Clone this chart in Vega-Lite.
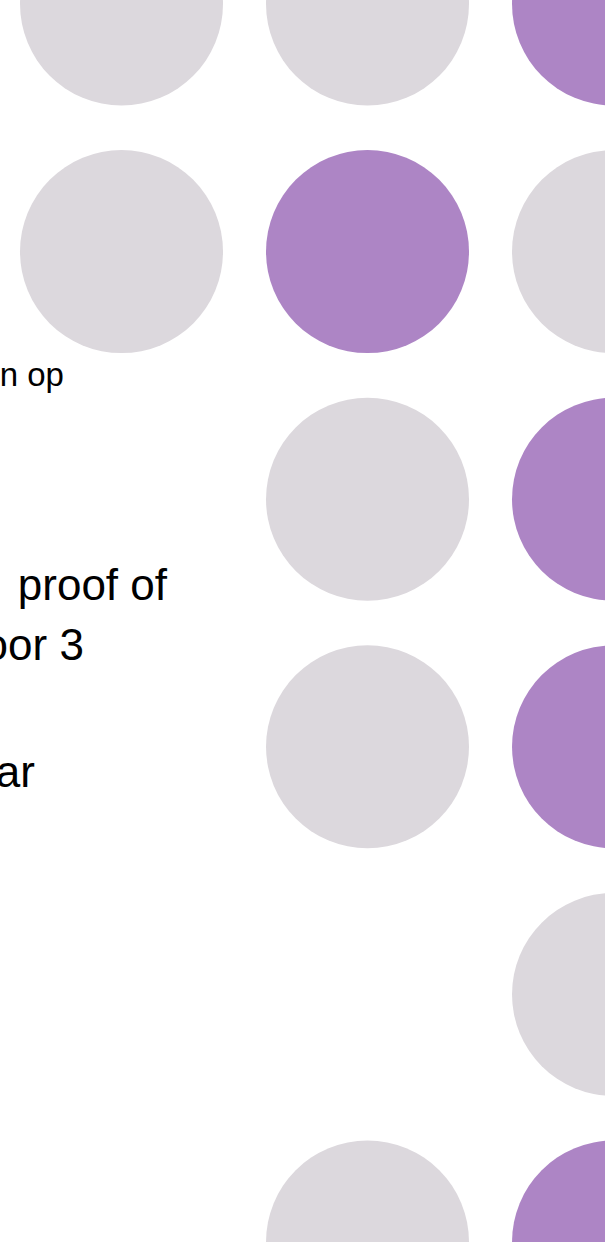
{
  "$schema": "https://vega.github.io/schema/vega-lite/v6.json",
  "width": 605,
  "height": 1242,
  "autosize": {"type": "fit", "contains": "padding"},
  "padding": 0,
  "background": "white",
  "config": {"view": {"stroke": null}},
  "datasets": {
    "cells": [
      {"col": 1, "row": 1, "status": "no"},
      {"col": 2, "row": 1, "status": "no"},
      {"col": 3, "row": 1, "status": "yes"},
      {"col": 1, "row": 2, "status": "no"},
      {"col": 2, "row": 2, "status": "yes"},
      {"col": 3, "row": 2, "status": "no"},
      {"col": 2, "row": 3, "status": "no"},
      {"col": 3, "row": 3, "status": "yes"},
      {"col": 2, "row": 4, "status": "no"},
      {"col": 3, "row": 4, "status": "yes"},
      {"col": 3, "row": 5, "status": "no"},
      {"col": 2, "row": 6, "status": "no"},
      {"col": 3, "row": 6, "status": "yes"}
    ],
    "labels": [
      {"label": "n op", "col": 0.766, "row": 2.543, "size": 33},
      {"label": "proof of", "col": 1.185, "row": 3.408, "size": 44},
      {"label": "oor 3", "col": 0.847, "row": 3.65, "size": 44},
      {"label": "ar", "col": 0.648, "row": 4.163, "size": 44}
    ]
  },
  "layer": [
    {
      "data": {"name": "cells"},
      "mark": {"type": "circle", "size": 41209, "opacity": 1, "clip": true},
      "encoding": {
        "x": {"field": "col", "type": "quantitative", "scale": {"domain": [0.5061, 2.9654], "nice": false, "zero": false}, "axis": null},
        "y": {"field": "row", "type": "quantitative", "scale": {"domain": [0.9838, 6.0], "nice": false, "zero": false, "reverse": true}, "axis": null},
        "color": {"field": "status", "type": "nominal", "scale": {"domain": ["no", "yes"], "range": ["#dcd8dd", "#ad85c5"]}, "legend": null}
      }
    },
    {
      "data": {"name": "labels"},
      "mark": {"type": "text", "align": "right", "baseline": "alphabetic", "font": "Liberation Sans", "color": "#000000", "clip": true},
      "encoding": {
        "x": {"field": "col", "type": "quantitative", "scale": {"domain": [0.5061, 2.9654], "nice": false, "zero": false}, "axis": null},
        "y": {"field": "row", "type": "quantitative", "scale": {"domain": [0.9838, 6.0], "nice": false, "zero": false, "reverse": true}, "axis": null},
        "text": {"field": "label"},
        "size": {"field": "size", "type": "quantitative", "scale": null}
      }
    }
  ]
}
